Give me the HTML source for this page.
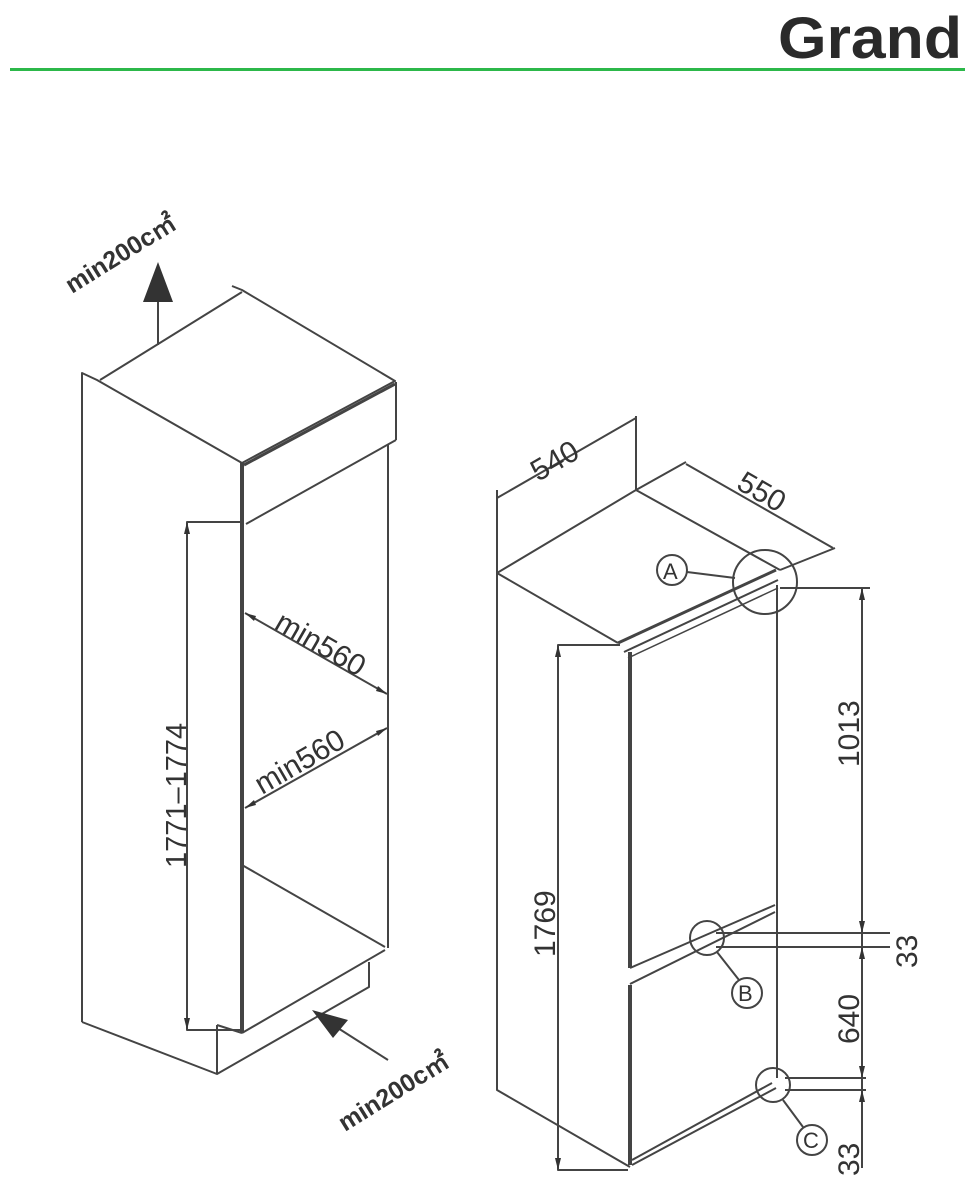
<!DOCTYPE html>
<html><head><meta charset="utf-8"><style>
html,body{margin:0;padding:0;background:#fff;}
svg{display:block}
text{font-family:"Liberation Sans",sans-serif;fill:#333}
</style></head><body>
<svg width="974" height="1186" viewBox="0 0 974 1186" xmlns="http://www.w3.org/2000/svg">
<!-- header -->
<text x="778" y="58" font-size="58" font-weight="bold" textLength="184" lengthAdjust="spacingAndGlyphs" style="fill:#2a2a2a">Grand</text>
<rect x="10" y="68" width="955" height="3" fill="#2cb84a"/>

<g stroke="#444" stroke-width="2" fill="none" stroke-linejoin="round">
<!-- LEFT CABINET -->
<polyline points="82,1022 82,373 97,380 242,463 395,381 242,290 232,286"/>
<line x1="100" y1="380" x2="242" y2="292"/>
<line x1="244" y1="465" x2="395" y2="384" stroke-width="3"/>
<line x1="396" y1="382" x2="396" y2="440"/>
<line x1="396" y1="440" x2="246" y2="524"/>
<line x1="388" y1="445" x2="388" y2="948"/>
<line x1="242" y1="463" x2="242" y2="1033" stroke-width="4"/>
<line x1="242" y1="865" x2="385" y2="947"/>
<line x1="385" y1="950" x2="242" y2="1033"/>
<polyline points="369,962 369,987 217,1074 82,1022"/>
<line x1="217" y1="1025" x2="217" y2="1074"/>
<line x1="217" y1="1025" x2="242" y2="1033"/>
<!-- dim 1771 -->
<polyline points="240,522 187,522 187,1030 240,1030"/>
<!-- min560 -->
<line x1="245" y1="613" x2="387" y2="694"/>
<line x1="387" y1="728" x2="245" y2="808"/>
<!-- arrows -->
<line x1="158" y1="345" x2="158" y2="295"/>
<line x1="388" y1="1060" x2="330" y2="1023"/>

<!-- RIGHT FRIDGE -->
<polyline points="630,1167 497,1090 497,573 636,490 780,570"/>
<line x1="497" y1="573" x2="618" y2="643"/>
<line x1="618" y1="643" x2="776" y2="570" stroke-width="3"/>
<line x1="624" y1="652" x2="778" y2="580" stroke-width="2"/>
<line x1="628" y1="658" x2="778" y2="588" stroke-width="1.5"/>
<!-- 540 -->
<line x1="497" y1="573" x2="497" y2="490"/>
<line x1="636" y1="490" x2="636" y2="416"/>
<line x1="497" y1="498" x2="636" y2="418"/>
<!-- 550 -->
<line x1="636" y1="490" x2="686" y2="462"/>
<line x1="780" y1="570" x2="835" y2="548"/>
<line x1="686" y1="464" x2="833" y2="548"/>
<!-- front -->
<line x1="630" y1="652" x2="630" y2="968" stroke-width="4"/>
<line x1="630" y1="985" x2="630" y2="1165" stroke-width="4"/>
<line x1="777" y1="585" x2="777" y2="905"/>
<line x1="777" y1="905" x2="777" y2="1078"/>
<line x1="630" y1="968" x2="775" y2="905"/>
<line x1="630" y1="984" x2="775" y2="912"/>
<line x1="632" y1="1160" x2="772" y2="1083"/>
<line x1="632" y1="1165" x2="776" y2="1088"/>
<!-- dim 1769 -->
<polyline points="620,645 558,645 558,1170 628,1170"/>
<!-- right dims -->
<line x1="862" y1="588" x2="862" y2="1168"/>
<line x1="780" y1="588" x2="870" y2="588"/>
<line x1="716" y1="933" x2="890" y2="933"/>
<line x1="716" y1="947" x2="890" y2="947"/>
<line x1="785" y1="1078" x2="866" y2="1078"/>
<line x1="785" y1="1090" x2="866" y2="1090"/>
<!-- circles -->
<circle cx="765" cy="582" r="32"/>
<circle cx="672" cy="570" r="15"/>
<path d="M687,572 L735,578"/>
<circle cx="707" cy="938" r="17"/>
<circle cx="747" cy="993" r="15"/>
<line x1="717" y1="952" x2="739" y2="980"/>
<circle cx="773" cy="1085" r="17"/>
<circle cx="812" cy="1140" r="15"/>
<line x1="783" y1="1100" x2="803" y2="1127"/>
</g>
<!-- arrowheads -->
<g fill="#333">
<polygon points="158,262 143,302 173,302"/>
<polygon points="312,1010 348,1020 333,1038"/>
<polygon points="245,613 256,616 254,621"/>
<polygon points="387,694 376,691 378,686"/>
<polygon points="387,728 378,736 376,731"/>
<polygon points="245,808 254,800 256,805"/>
<polygon points="187,522 184,534 190,534"/>
<polygon points="187,1030 184,1018 190,1018"/>
<polygon points="558,645 555,657 561,657"/>
<polygon points="558,1170 555,1158 561,1158"/>
<polygon points="862,588 859,600 865,600"/>
<polygon points="862,933 859,921 865,921"/>
<polygon points="862,947 859,959 865,959"/>
<polygon points="862,1078 859,1066 865,1066"/>
<polygon points="862,1090 859,1102 865,1102"/>
</g>
<!-- labels -->
<text transform="translate(72,294) rotate(-32)" font-size="25" font-weight="bold">min200c㎡</text>
<text transform="translate(345,1132) rotate(-32)" font-size="25" font-weight="bold">min200c㎡</text>
<text transform="translate(273,628) rotate(30)" font-size="30">min560</text>
<text transform="translate(262,795) rotate(-30)" font-size="30">min560</text>
<text transform="translate(186,868) rotate(-90)" font-size="29">1771–1774</text>
<text transform="translate(538,482) rotate(-30)" font-size="30">540</text>
<text transform="translate(735,488) rotate(30)" font-size="30">550</text>
<text transform="translate(555,957) rotate(-90)" font-size="30">1769</text>
<text transform="translate(859,767) rotate(-90)" font-size="30">1013</text>
<text transform="translate(917,968) rotate(-90)" font-size="30">33</text>
<text transform="translate(859,1044) rotate(-90)" font-size="30">640</text>
<text transform="translate(859,1176) rotate(-90)" font-size="30">33</text>
<text x="663" y="579" font-size="22">A</text>
<text x="738" y="1001" font-size="22">B</text>
<text x="803" y="1148" font-size="22">C</text>
</svg>
</body></html>
